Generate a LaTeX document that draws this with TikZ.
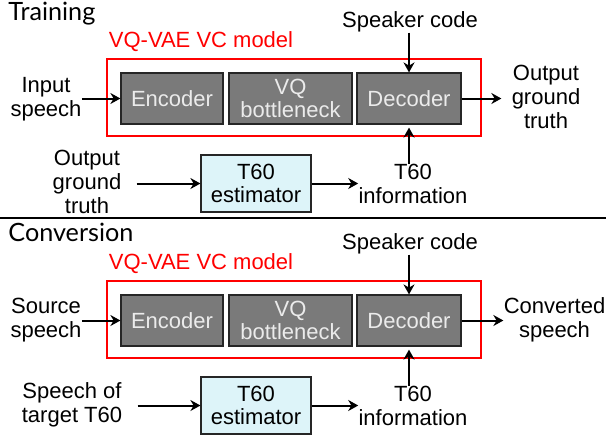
\documentclass[tikz,border=0pt]{standalone}
\usepackage{fontspec}
\setmainfont{Liberation Sans}
\newfontfamily\headfont{Lato}
\usetikzlibrary{arrows.meta}
\definecolor{blockgray}{RGB}{122,122,122}
\definecolor{estcyan}{RGB}{221,244,249}
\definecolor{modelred}{RGB}{255,0,0}
\begin{document}
\begin{tikzpicture}[x=0.5pt,y=-0.5pt,
        txt/.style={align=center,inner sep=0pt,font=\fontsize{11}{11.8}\selectfont},
        block/.style={txt,draw=black!85,line width=0.6pt,fill=blockgray,text=white!92!black,minimum width=#1,minimum height=25.5pt},
        estbox/.style={txt,draw=black!85,line width=0.6pt,fill=estcyan,minimum width=55pt,minimum height=28.5pt},
        vcbox/.style={draw=modelred,line width=1.2pt,minimum width=187pt,minimum height=38.5pt},
        vclabel/.style={txt,text=modelred},
        head/.style={anchor=base west,inner sep=0pt,font=\headfont\fontsize{12.6}{13}\selectfont},
        arr/.style={-{Stealth[length=5pt,width=5.5pt]},line width=1pt}]
    \useasboundingbox (0,0) rectangle (608,434);

    % training
    \node(title1) at (8,20) [head]{Training};
    \node(vc1) at (294,97.5) [vcbox]{};
    \node(lab1) at (201,42) [vclabel]{VQ-VAE VC model};
    \node(enc1) at (172,98.5) [block=51pt]{Encoder};
    \node(vq1) at (290.5,98.5) [block=61.5pt]{VQ\\bottleneck};
    \node(dec1) at (409,98.5) [block=52pt]{Decoder};
    \node(spk1) at (410,22) [txt]{Speaker code};
    \node(in1) at (46,99) [txt]{Input\\speech};
    \node(out1) at (546,97) [txt]{Output\\ground\\truth};
    \node(gt1) at (87,182) [txt]{Output\\ground\\truth};
    \node(est1) at (256,183.5) [estbox]{T60\\estimator};
    \node(info1) at (413,184) [txt]{T60\\information};
    \draw[arr] (in1.east |- enc1) -- (enc1.west);
    \draw[arr] (spk1.south -| dec1) -- (dec1.north);
    \draw[arr] (dec1.east) -- (dec1.east -| out1.west) [shorten >=5pt];
    \draw[arr] ([xshift=7.5pt]gt1.east |- est1) -- (est1.west);
    \draw[arr] (est1.east) -- (est1.east -| info1.west);
    \draw[arr,shorten >=1.5pt] (info1.north -| dec1) -- (dec1.south);

    \draw[line width=0.7pt] (0,218) -- (606,218);

    % conversion
    \node(title2) at (8,241) [head]{Conversion};
    \node(vc2) at (294,319.5) [vcbox]{};
    \node(lab2) at (201,264) [vclabel]{VQ-VAE VC model};
    \node(enc2) at (172,320.5) [block=51pt]{Encoder};
    \node(vq2) at (290.5,320.5) [block=61.5pt]{VQ\\bottleneck};
    \node(dec2) at (409,320.5) [block=52pt]{Decoder};
    \node(spk2) at (410,244) [txt]{Speaker code};
    \node(in2) at (46,320) [txt]{Source\\speech};
    \node(out2) at (554.5,320) [txt]{Converted\\speech};
    \node(tgt2) at (72,405) [txt]{Speech of\\target T60};
    \node(est2) at (256,405.5) [estbox]{T60\\estimator};
    \node(info2) at (413,406) [txt]{T60\\information};
    \draw[arr] (in2.east |- enc2) -- (enc2.west);
    \draw[arr] (spk2.south -| dec2) -- (dec2.north);
    \draw[arr] (dec2.east) -- (dec2.east -| out2.west);
    \draw[arr] ([xshift=7.5pt]tgt2.east |- est2) -- (est2.west);
    \draw[arr] (est2.east) -- (est2.east -| info2.west);
    \draw[arr,shorten >=1.5pt] (info2.north -| dec2) -- (dec2.south);
\end{tikzpicture}
\end{document}
